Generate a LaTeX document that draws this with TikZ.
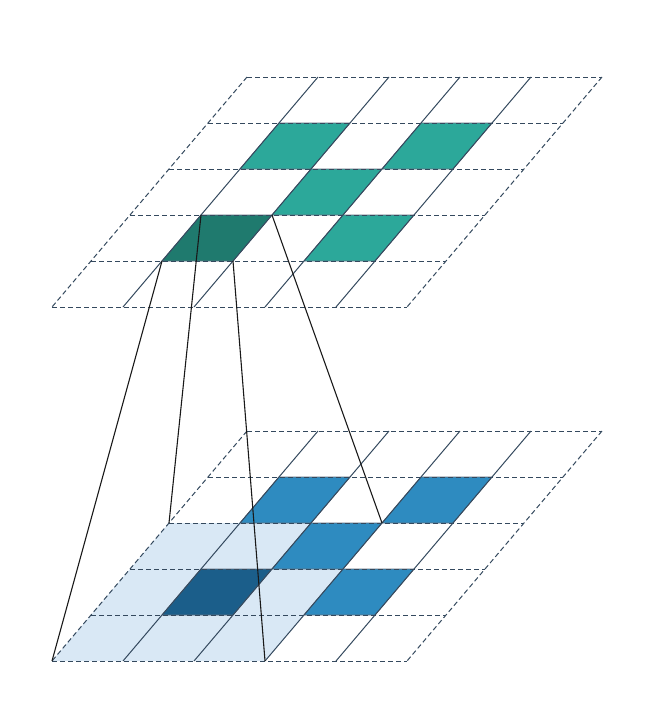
\documentclass[tikz,border=0pt]{standalone}
\usetikzlibrary{calc}
\definecolor{gridc}{HTML}{34495E}
\definecolor{tealc}{HTML}{2CA89A}
\definecolor{dtealc}{HTML}{1F7A6E}
\definecolor{bluec}{HTML}{2E8BC0}
\definecolor{dbluec}{HTML}{1B5E8A}
\definecolor{lbluec}{HTML}{D9E8F5}
\tikzset{
  dashln/.style={draw=gridc,line width=1pt,dash pattern=on 5pt off 3pt},
  solidln/.style={draw=gridc,line width=1pt},
  cellfill/.style={fill=#1,draw=gridc!80,line width=0.7pt},
  conn/.style={draw=black!90,line width=1.1pt}
}
\begin{document}
\begin{tikzpicture}[x=1pt,y=-1pt]
\useasboundingbox (0,0) rectangle (672,715);
% coordinates
\foreach \r in {0,...,5}{
  \foreach \c in {0,...,5}{
    \coordinate (T-\c-\r) at ({247-39*\r+71*\c},{77+46*\r});
    \coordinate (B-\c-\r) at ({247-39*\r+71*\c},{431+46*\r});
  }
}
% macro for a cell
\newcommand{\mycell}[4]{\path[cellfill=#4] (#1-#2-#3) -- ($(#1-#2-#3)+(71,0)$) -- ($(#1-#2-#3)+(32,46)$) -- ($(#1-#2-#3)+(-39,46)$) -- cycle;}
% top grid cells
\mycell{T}{1}{1}{tealc}
\mycell{T}{3}{1}{tealc}
\mycell{T}{2}{2}{tealc}
\mycell{T}{1}{3}{dtealc}
\mycell{T}{3}{3}{tealc}
% bottom light region
\path[fill=lbluec] (B-0-2) -- (B-3-2) -- (B-3-5) -- (B-0-5) -- cycle;
\mycell{B}{1}{1}{bluec}
\mycell{B}{3}{1}{bluec}
\mycell{B}{2}{2}{bluec}
\mycell{B}{1}{3}{dbluec}
\mycell{B}{3}{3}{bluec}
% grid lines
\foreach \g in {T,B}{
  \foreach \r in {0,...,5}{\draw[dashln] (\g-0-\r) -- (\g-5-\r);}
  \foreach \c in {1,...,4}{\draw[solidln] (\g-\c-0) -- (\g-\c-5);}
  \foreach \c in {0,5}{\draw[dashln] (\g-\c-0) -- (\g-\c-5);}
}
% connectors
\draw[conn] (T-1-4) -- (B-0-5);
\draw[conn] (T-1-3) -- (B-0-2);
\draw[conn] (T-2-4) -- (B-3-5);
\draw[conn] (T-2-3) -- (B-3-2);
\end{tikzpicture}
\end{document}
